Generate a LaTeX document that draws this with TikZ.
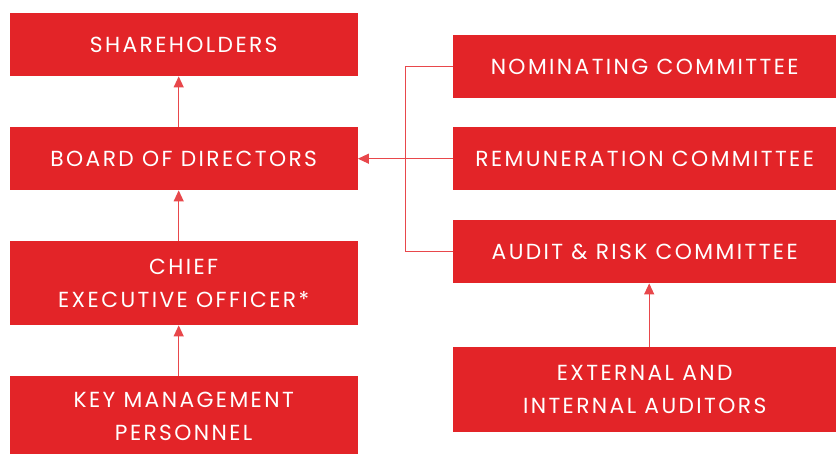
\documentclass[tikz,border=0pt]{standalone}
\usepackage{fontspec}
\setmainfont{Poppins}
\newfontfamily\boxfont{Poppins}[LetterSpace=11]
\usetikzlibrary{arrows.meta}
\definecolor{boxred}{HTML}{E32428}
\definecolor{linered}{HTML}{E8474B}

\begin{document}
\begin{tikzpicture}[x=1pt,y=-1pt,
  box/.style={fill=boxred, text=white, anchor=north west, inner sep=0pt,
    align=center, font=\boxfont\fontsize{21.8}{33}\selectfont},
  leftbox/.style={box, minimum width=348pt},
  rightbox/.style={box, minimum width=383pt},
  wire/.style={draw=linered, line width=1.1pt},
  link/.style={wire, -{Triangle[length=11pt,width=10pt]}}]
\useasboundingbox (0,0) rectangle (836,454);
% left column
\node[leftbox, minimum height=63pt] (share) at (9.5,13) {SHAREHOLDERS};
\node[leftbox, minimum height=63pt] (board) at (9.5,127) {BOARD OF DIRECTORS};
\node[leftbox, minimum height=84pt] (ceo) at (9.5,241) {CHIEF\\EXECUTIVE OFFICER*};
\node[leftbox, minimum height=80pt] (kmp) at (9.5,376) {KEY MANAGEMENT\\PERSONNEL};
% right column
\node[rightbox, minimum height=63pt] (nom) at (453,35) {NOMINATING COMMITTEE};
\node[rightbox, minimum height=63pt] (rem) at (453,127) {REMUNERATION COMMITTEE};
\node[rightbox, minimum height=63pt] (audit) at (453,220) {AUDIT \& RISK COMMITTEE};
\node[rightbox, minimum height=85pt] (ext) at (453,347) {EXTERNAL AND\\INTERNAL AUDITORS};
% connectors
\coordinate (brk) at (405.5,158.5);
\draw[wire] (nom.west) -| (brk) |- (audit.west);
\draw[link] (rem.west) -- (board.east);
\draw[link] ([xshift=-5pt]board.north) -- ([xshift=-5pt]share.south);
\draw[link] ([xshift=-5pt]ceo.north) -- ([xshift=-5pt]board.south);
\draw[link] ([xshift=-5pt]kmp.north) -- ([xshift=-5pt]ceo.south);
\draw[link] ([xshift=4.5pt]ext.north) -- ([xshift=4.5pt]audit.south);
\end{tikzpicture}
\end{document}
